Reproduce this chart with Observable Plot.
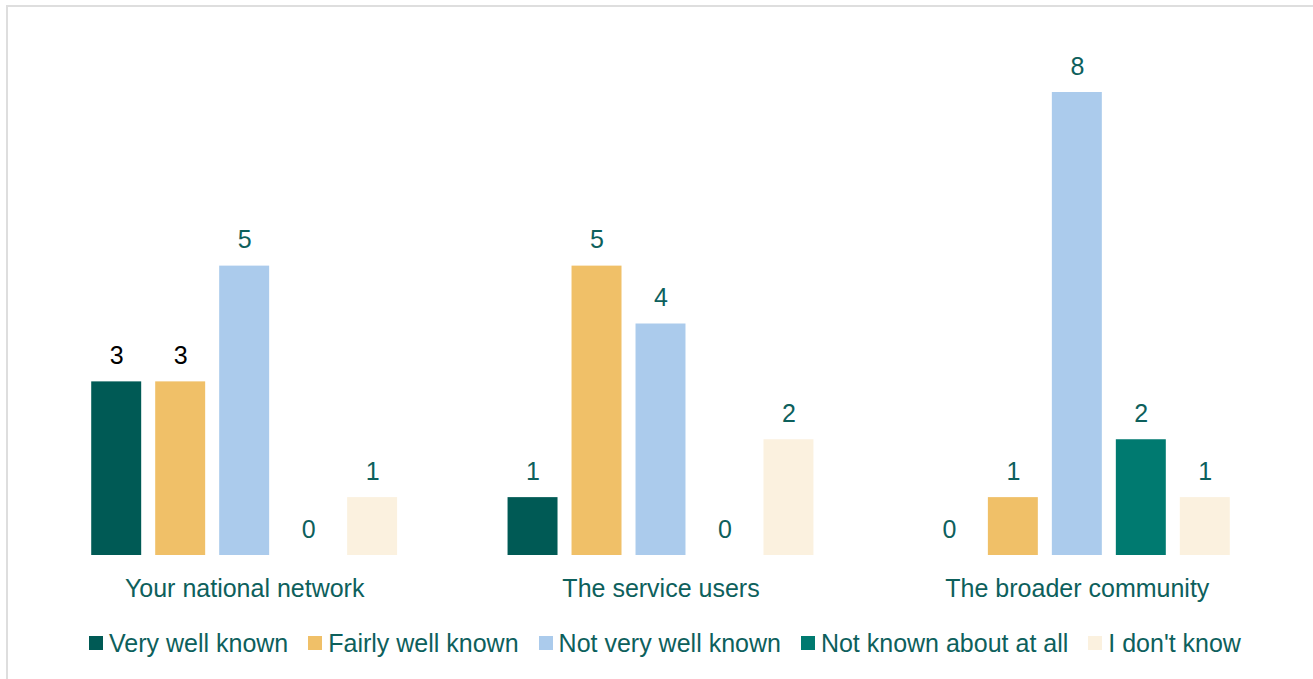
<!DOCTYPE html>
<html>
<head>
<meta charset="utf-8">
<script src="https://cdn.jsdelivr.net/npm/d3@7"></script>
<script src="https://cdn.jsdelivr.net/npm/@observablehq/plot@0.6"></script>
<style>
  html, body { margin: 0; padding: 0; background: #fff; width: 1313px; height: 679px; overflow: hidden; }
  body { font-family: "Liberation Sans", Arial, sans-serif; position: relative; }
  #frame { position: absolute; left: 6px; top: 5px; width: 1320px; height: 700px; border-left: 2px solid #dedede; border-top: 2px solid #dedede; }
  #chart { position: absolute; left: 0; top: 0; }
  #legend { position: absolute; left: 89px; top: 628px; height: 30px; display: flex; align-items: center; white-space: nowrap; font-size: 25px; color: #0d605c; }
  .item { display: flex; align-items: center; margin-right: 20px; }
  .sw { width: 14px; height: 14px; margin-right: 6px; }
</style>
</head>
<body>
<div id="frame"></div>
<div id="chart"></div>
<div id="legend"></div>
<script>
const groups = ["Your national network", "The service users", "The broader community"];
const series = ["Very well known", "Fairly well known", "Not very well known", "Not known about at all", "I don't know"];
const veryWell = [3, 1, 0];
const fairlyWell = [3, 5, 1];
const notVeryWell = [5, 4, 8];
const notKnown = [0, 0, 2];
const dontKnow = [1, 2, 1];
const colors = ["#005a55", "#f0c068", "#abcbec", "#007a70", "#fbf1df"];

const valuesBySeries = [veryWell, fairlyWell, notVeryWell, notKnown, dontKnow];
const data = [];
groups.forEach((g, gi) => {
  series.forEach((s, si) => {
    data.push({group: g, series: s, value: valuesBySeries[si][gi], gi, si});
  });
});

const teal = "#0d605c";
const chart = Plot.plot({
  width: 1313,
  height: 610,
  marginTop: 92,
  marginBottom: 55,
  marginLeft: 36,
  marginRight: 28,
  style: {fontFamily: "'Liberation Sans', Arial, sans-serif", background: "transparent"},
  fx: {domain: groups, padding: 0, round: false, label: null},
  x: {domain: series, paddingInner: 0.219, paddingOuter: 0.863, round: false, axis: null},
  y: {domain: [0, 8], axis: null},
  color: {domain: series, range: colors},
  marks: [
    Plot.barY(data, {fx: "group", x: "series", y: "value", fill: "series"}),
    Plot.text(data, {
      fx: "group", x: "series", y: "value", text: d => String(d.value),
      dy: -26, fontSize: 25,
      fill: d => (d.gi === 0 && d.si < 2) ? "#000" : teal
    }),
    Plot.axisFx({anchor: "bottom", tickSize: 0, tickPadding: 24, fontSize: 25, fill: teal, label: null})
  ]
});
document.getElementById("chart").appendChild(chart);

const legend = document.getElementById("legend");
series.forEach((s, i) => {
  const item = document.createElement("div");
  item.className = "item";
  const sw = document.createElement("div");
  sw.className = "sw";
  sw.style.background = colors[i];
  const t = document.createElement("span");
  t.textContent = s;
  item.appendChild(sw);
  item.appendChild(t);
  legend.appendChild(item);
});
</script>
</body>
</html>
